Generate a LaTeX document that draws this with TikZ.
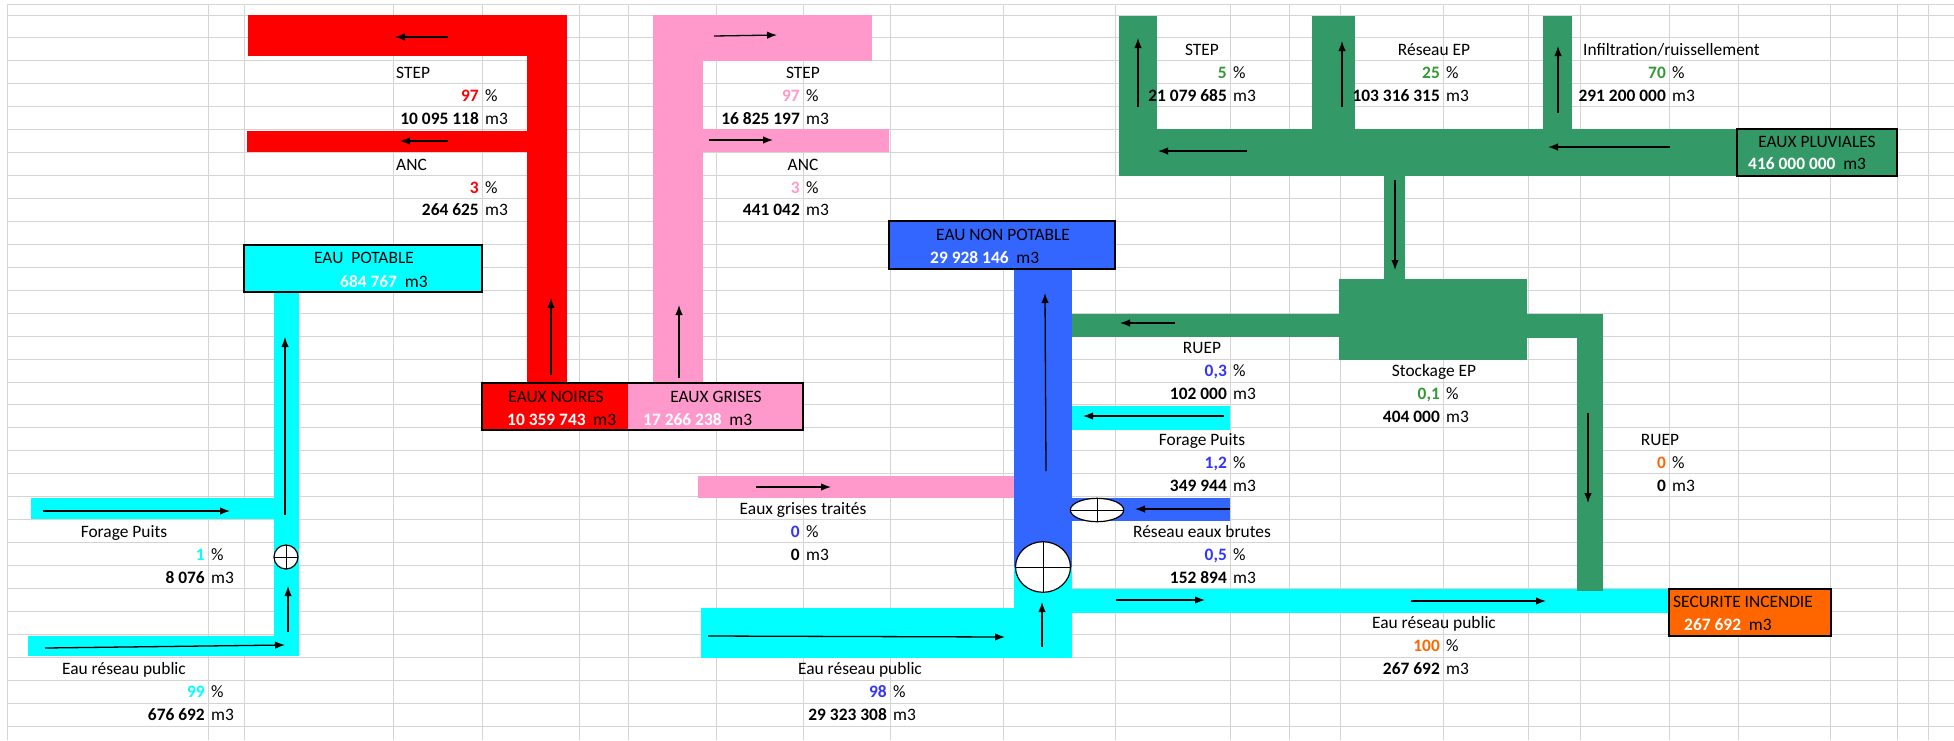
\documentclass[tikz,border=0pt]{standalone}
\usepackage{fontspec}
\setmainfont{Carlito}
\usetikzlibrary{arrows.meta,shapes.geometric}

\definecolor{noire}{HTML}{FF0000}
\definecolor{grise}{HTML}{FF99CC}
\definecolor{potable}{HTML}{00FFFF}
\definecolor{nonpot}{HTML}{3366FF}
\definecolor{pluie}{HTML}{339966}
\definecolor{incendie}{HTML}{FF6600}
\definecolor{bleu}{HTML}{3333FF}
\definecolor{vert}{HTML}{339933}
\definecolor{grille}{HTML}{D4D4D4}

\begin{document}
\begin{tikzpicture}[x=1pt,y=-1pt,>={Latex[length=10pt,width=7.5pt]},
  font=\fontsize{17.4}{20}\selectfont,
  every node/.style={inner sep=0pt},
  lab/.style={anchor=base},
  num/.style={anchor=base east,font=\fontsize{17.4}{20}\selectfont\bfseries},
  unit/.style={anchor=base west},
  boite/.style={draw,line width=2pt},
  fleche/.style={->,line width=1.3pt},
  vanne/.style={ellipse,draw,fill=white,line width=1.2pt,
    path picture={\draw[line width=1pt] (path picture bounding box.north) -- (path picture bounding box.south)
      (path picture bounding box.west) -- (path picture bounding box.east);}}]
  \fill[white] (0,0) rectangle (1954,740);
  \useasboundingbox (0,0) rectangle (1954,740);
  % grille du tableur
  \draw[grille,line width=1pt] (7,4) -- (1954,4);
  \foreach \k in {0,...,31}
    \draw[grille,line width=1pt] (7,{15+22.94*\k}) -- (1954,{15+22.94*\k});
  \foreach \x in {7,208,244,393,482,579,628,716,803,890,1003,1115,1230,1289,1340,1443,1528,1580,1669,1738,1830,1897,1928}
    \draw[grille,line width=1pt] (\x,4) -- (\x,740);

  % eaux noires
  \fill[noire] (248,15) rectangle (567,56);
  \fill[noire] (527,15) rectangle (567,383);
  \fill[noire] (247,131) rectangle (527,152);
  % eaux grises
  \fill[grise] (653,15) rectangle (872,61);
  \fill[grise] (653,15) rectangle (703,383);
  \fill[grise] (703,129) rectangle (889,152);
  \fill[grise] (698,476) rectangle (1014,498);
  % eau potable
  \fill[potable] (274,292) rectangle (299,656);
  \fill[potable] (31,498) rectangle (274,519);
  \fill[potable] (28,636) rectangle (299,656);
  % eau non potable
  \fill[nonpot] (1014,269) rectangle (1072,567);
  \fill[potable] (1014,567) rectangle (1072,658);
  \fill[potable] (701,608) rectangle (1014,658);
  \fill[potable] (1072,589) rectangle (1669,613);
  \fill[potable] (1072,406) rectangle (1230,430);
  \fill[nonpot] (1072,498) rectangle (1230,521);
  % eaux pluviales
  \fill[pluie] (1119,16) rectangle (1157,176);
  \fill[pluie] (1312,16) rectangle (1355,176);
  \fill[pluie] (1543,16) rectangle (1572,176);
  \fill[pluie] (1119,129) rectangle (1737,176);
  \fill[pluie] (1384,176) rectangle (1405,279);
  \fill[pluie] (1339,279) rectangle (1527,360);
  \fill[pluie] (1072,314) rectangle (1339,337);
  \fill[pluie] (1527,314) rectangle (1603,338);
  \fill[pluie] (1577,314) rectangle (1603,591);
  \fill[noire] (482,383) rectangle (628,430);
  \fill[grise] (628,383) rectangle (803,430);

  % vannes
  \node[vanne,minimum width=24pt,minimum height=24pt] (v1) at (286,557) {};
  \node[vanne,minimum width=55pt,minimum height=50.6pt] (v2) at (1043,567) {};
  \node[vanne,minimum width=53.4pt,minimum height=23.4pt] (v3) at (1097,510) {};

  % sens des flux
  \foreach \n/\xa/\ya/\xb/\yb in {r1/448/37/395/37, r2/448/141/400/141, r3/551/375/551/298,
      g1/714/36/777/35, g2/709/140/773/140, g3/679/378/679/305, g4/756/487/831/487,
      c1/43/511/230/511, c2/45/648/285/645, c3/288/632/288/586, c4/285/515/285/337,
      c5/708/636/1005/637, c6/1042/647/1042/602, c7/1224/416/1083/416,
      c8/1116/600/1205/600, c9/1411/601/1546/601,
      b1/1046/471/1045/293, b2/1230/509/1135/509,
      p1/1138/107/1138/38, p2/1342/107/1342/41, p3/1558/113/1558/46,
      p4/1247/151/1158/151, p5/1670/147/1548/147, p6/1395/180/1395/270,
      p7/1175/323/1120/323, p8/1588/413/1588/503}{
    \coordinate (\n-a) at (\xa,\ya);
    \coordinate (\n-b) at (\xb,\yb);
    \draw[fleche] (\n-a) -- (\n-b);
  }

  % reservoirs
  \node[boite,fill=potable,minimum width=238pt,minimum height=47pt] (ep) at (363,268.5) {};
  \node[boite,minimum width=321pt,minimum height=47pt] (eaux) at (642.5,406.5) {};
  \node[boite,fill=nonpot,minimum width=226pt,minimum height=48pt] (enp) at (1002,245) {};
  \node[boite,fill=pluie,minimum width=160pt,minimum height=47pt] (epl) at (1817,152.5) {};
  \node[boite,fill=incendie,minimum width=162pt,minimum height=47pt] (si) at (1750,612.5) {};

  \node[lab] (ept) at (364,263.3) {EAU\ \ POTABLE};
  \node[unit] (epv) at (340,287.3) {\textbf{\color{white}684 767}\ \ m3};
  \node[lab] (ent) at (556,402.7) {EAUX NOIRES};
  \node[unit] (env) at (507,425) {\textbf{\color{white}10 359 743}\ \ m3};
  \node[lab] (egt) at (716,402.7) {EAUX GRISES};
  \node[unit] (egv) at (643,425) {\textbf{\color{white}17 266 238}\ \ m3};
  \node[lab] (enpt) at (1003,240) {EAU NON POTABLE};
  \node[unit] (enpv) at (930,263) {\textbf{\color{white}29 928 146}\ \ m3};
  \node[lab] (eplt) at (1817,147.3) {EAUX PLUVIALES};
  \node[unit] (eplv) at (1748,169.3) {\textbf{\color{white}416 000 000}\ \ m3};
  \node[unit] (sit) at (1673,607.7) {SECURITE INCENDIE};
  \node[unit] (siv) at (1684,630) {\textbf{\color{white}267 692}\ \ m3};

  % destinations
  \node[anchor=base west] (nstep) at (396,78.3) {STEP};
  \node[anchor=base west] (nanc) at (396,170.1) {ANC};
  \node[lab] (gstep) at (803,78.3) {STEP};
  \node[lab] (ganc) at (803,170.1) {ANC};
  \node[lab] (gtr) at (803,514.2) {Eaux grises traités};
  \node[lab] (pstep) at (1202,55.4) {STEP};
  \node[lab] (pres) at (1434,55.4) {Réseau EP};
  \node[anchor=base west] (pinf) at (1583,55.4) {Infiltration/ruissellement};
  \node[lab] (psto) at (1434,376.5) {Stockage EP};
  \node[lab] (ruep) at (1202,353.6) {RUEP};
  \node[lab] (fpuits) at (1202,445.4) {Forage Puits};
  \node[lab] (brutes) at (1202,537.1) {Réseau eaux brutes};
  \node[lab] (erp) at (860,674.8) {Eau réseau public};
  \node[lab] (erpi) at (1434,628.9) {Eau réseau public};
  \node[lab] (ruepi) at (1660,445.4) {RUEP};
  \node[lab] (fpl) at (124,537.1) {Forage Puits};
  \node[lab] (erpl) at (124,674.8) {Eau réseau public};

  \foreach \n/\xb/\yp/\col/\pct/\vol in {nstep/482/101.3/noire/97/10 095 118,
      nanc/482/193.0/noire/3/264 625, gstep/803/101.3/grise/97/16 825 197,
      ganc/803/193.0/grise/3/441 042, pstep/1230/78.3/vert/5/21 079 685,
      pres/1443/78.3/vert/25/103 316 315, pinf/1669/78.3/vert/70/291 200 000,
      psto/1443/399.5/vert/{0,1}/404 000, ruep/1230/376.5/bleu/{0,3}/102 000,
      fpuits/1230/468.3/bleu/{1,2}/349 944, brutes/1230/560.1/bleu/{0,5}/152 894,
      gtr/803/537.1/bleu/0/0, erp/890/697.7/bleu/98/29 323 308,
      erpi/1443/651.8/incendie/100/267 692, ruepi/1669/468.3/incendie/0/0,
      fpl/208/560.1/potable/1/8 076, erpl/208/697.7/potable/99/676 692}{
    \node[num,text=\col] (\n-p) at (\xb-3,\yp) {\pct};
    \node[unit] (\n-pu) at (\xb+3,\yp) {\%};
    \node[num] (\n-v) at (\xb-3,\yp+22.94) {\vol};
    \node[unit] (\n-vu) at (\xb+3,\yp+22.94) {m3};
  }
\end{tikzpicture}
\end{document}
